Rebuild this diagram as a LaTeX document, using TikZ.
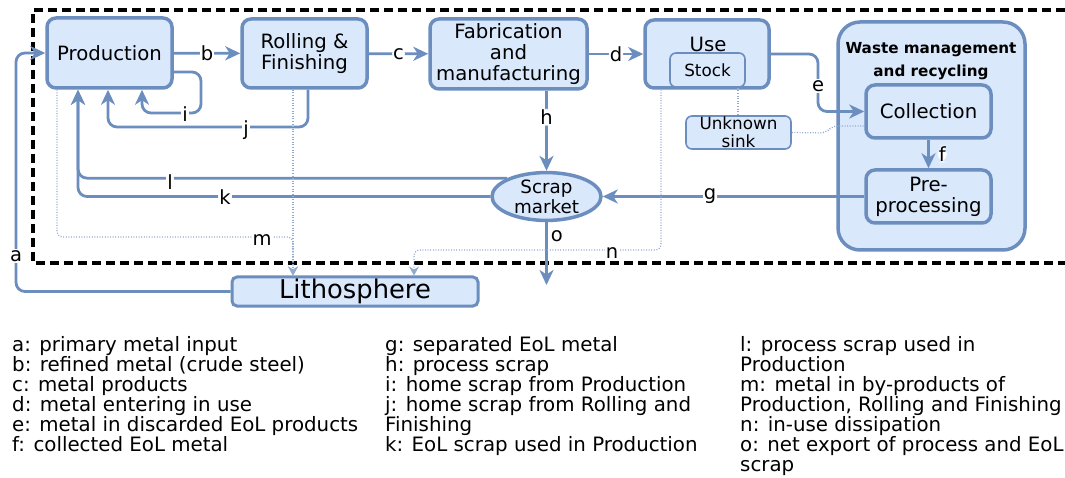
\documentclass[tikz,border=0pt]{standalone}
\usepackage{fontspec}
\setmainfont{DejaVu Sans}
\usepackage{tikz}
\usetikzlibrary{shapes,arrows.meta,positioning}
\definecolor{boxfill}{HTML}{DAE8FC}
\definecolor{boxline}{HTML}{6C8EBF}
\tikzset{
    stage/.style={draw=boxline, fill=boxfill, line width=3.5pt, rounded corners=9pt, align=center, inner sep=0pt, font=\fontsize{19.7}{21}\selectfont},
    subbox/.style={draw=boxline, fill=boxfill, line width=1.6pt, rounded corners=6pt, align=center, inner sep=0pt, font=\fontsize{16.8}{18}\selectfont},
    flow/.style={draw=boxline, line width=2.8pt, rounded corners=9pt, -{Stealth[length=15pt,width=14pt,inset=4.5pt]}},
    leak/.style={draw=boxline!75, line width=1.2pt, dash pattern=on 1pt off 1.6pt, rounded corners=6pt, -{Stealth[length=9pt,width=10pt,inset=3pt]}},
    lbl/.style={fill=white, inner sep=1pt, font=\fontsize{19.5}{19.5}\selectfont},
    legend/.style={anchor=north west, align=left, inner sep=0pt, font=\fontsize{19.8}{20}\selectfont}
}
\begin{document}
\begin{tikzpicture}[x=1pt, y=-1pt]
    \useasboundingbox (0,0) rectangle (1065,478);
    \draw[line width=3.2pt, dash pattern=on 9pt off 5pt] (1065,10) -- (33,10) -- (33,263) -- (1065,263);

    \node[stage, minimum width=125, minimum height=70] (prod) at (109.5,53) {Production};
    \node[stage, minimum width=125, minimum height=69] (roll) at (304.5,53.5) {Rolling \&\\Finishing};
    \node[stage, minimum width=157, minimum height=70] (fab) at (508.5,54) {Fabrication\\and\\manufacturing};
    \node[stage, minimum width=124, minimum height=68] (use) at (707,54) {};
    \node[font=\fontsize{19.7}{21}\selectfont] (usetext) at (708,44) {Use};
    \node[subbox, minimum width=75, minimum height=34] (stock) at (707.5,70) {Stock};
    \node[subbox, minimum width=105, minimum height=33] (sink) at (738.5,132.5) {Unknown\\sink};
    \node[stage, rounded corners=22pt, minimum width=187, minimum height=228] (wm) at (931.5,136) {};
    \node[align=center, font=\fontsize{15.2}{23}\selectfont\bfseries] (wmtitle) at (931,61.5) {Waste management\\and recycling};
    \node[stage, minimum width=125, minimum height=53] (coll) at (928.5,111.5) {Collection};
    \node[stage, minimum width=125, minimum height=53] (pre) at (928.5,196.5) {Pre-\\processing};
    \node[stage, ellipse, rounded corners=0pt, minimum width=109, minimum height=43, font=\fontsize{18.3}{20}\selectfont] (scrap) at (546.5,196.5) {Scrap\\market};
    \node[stage, rounded corners=5pt, line width=3pt, minimum width=246, minimum height=29, font=\fontsize{25.8}{25.8}\selectfont] (litho) at (355,291.5) {Lithosphere};
    \coordinate (export) at (546.5,285);

    \draw[flow] (litho.west) -| (16,53) -- (prod.west);
    \node[lbl] (la) at (16,256) {a};
    \draw[flow] (prod) -- node[lbl] (lb) {b} (roll);
    \draw[flow] (roll) -- node[lbl] (lc) {c} (fab);
    \draw[flow] (fab) -- node[lbl] (ld) {d} (use);
    \draw[flow] (use.east) -| (818,111.5) -- (coll.west);
    \node[lbl] (le) at (818,86) {e};
    \draw[flow] (coll) -- node[lbl, right=8pt] (lf) {f} (pre);
    \draw[flow] (pre.west) -- node[lbl, pos=0.59] (lg) {g} (scrap.east);
    \draw[flow] (fab.south -| scrap.north) -- node[lbl, pos=0.33] (lh) {h} (scrap);
    \draw[flow] (prod.east |- 0,72) -| (201,113) -| (prod.south -| 142,0);
    \node[lbl] (li) at (185,114) {i};
    \draw[flow] (roll.south -| 308,0) |- (108,127) -- (prod.south -| 108,0);
    \node[lbl] (lj) at (246,130) {j};
    \draw[flow] (scrap.155) -| (prod.south -| 78,0);
    \draw[flow] (scrap.west) -| (prod.south -| 78,0);
    \node[lbl] (ll) at (170,182) {l};
    \node[lbl] (lk) at (225,197) {k};
    \draw[flow] (scrap) -- node[lbl, fill=none, pos=0.22, right=2pt] (lo) {o} (export);

    \draw[leak] (prod.south -| 57,0) |- (293,237) -- (litho.north -| 293,0);
    \draw[leak] (roll.south -| 293,0) -- (litho.north -| 293,0);
    \node[lbl] (lm) at (262,240) {m};
    \draw[leak] (use.south -| 661,0) |- (414,250) -- (litho.north -| 414,0);
    \node[lbl] (ln) at (612,253) {n};
    \draw[leak, -] (stock.south -| 738,0) -- (sink.north -| 738,0);
    \draw[leak, -] (sink.east) -- (826,133) -- (832,126) -- (coll.west |- 0,126);

    \node[legend] (leg1) at (12,336) {a: primary metal input\\b: refined metal (crude steel)\\c: metal products\\d: metal entering in use\\e: metal in discarded EoL products\\f: collected EoL metal};
    \node[legend] (leg2) at (385,336) {g: separated EoL metal\\h: process scrap\\i: home scrap from Production\\j: home scrap from Rolling and\\Finishing\\k: EoL scrap used in Production};
    \node[legend] (leg3) at (740,336) {l: process scrap used in\\Production\\m: metal in by-products of\\Production, Rolling and Finishing\\n: in-use dissipation\\o: net export of process and EoL\\scrap};
\end{tikzpicture}
\end{document}
